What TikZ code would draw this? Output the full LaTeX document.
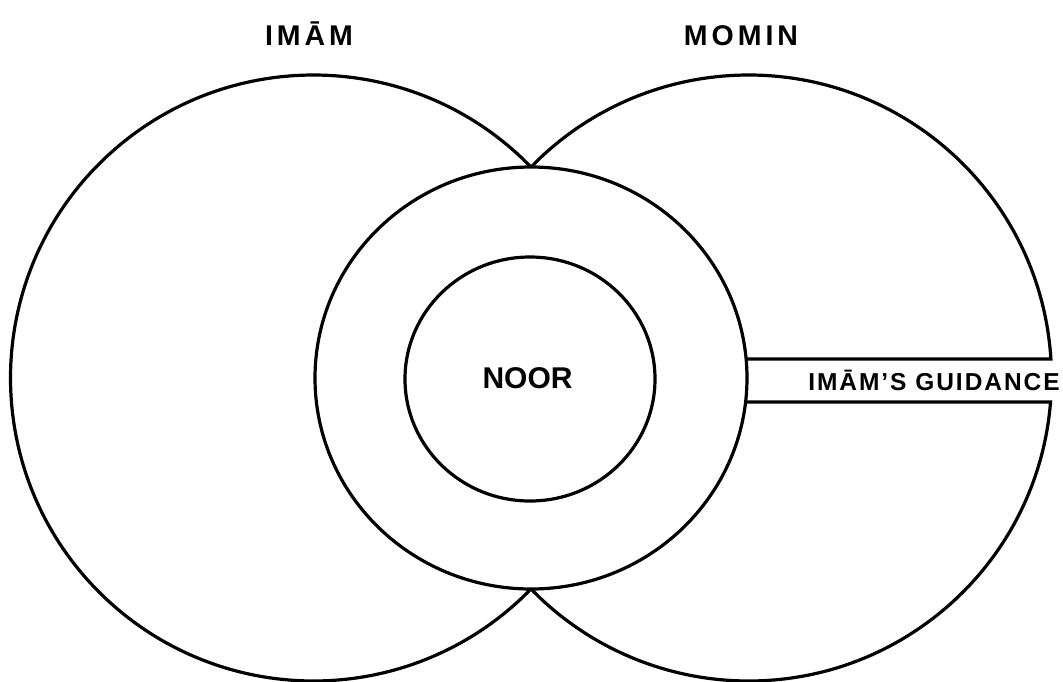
\documentclass[tikz,border=0pt]{standalone}
\usepackage{fontspec}
\setmainfont{Liberation Sans}
\newfontfamily\toplabelfont{Liberation Sans}[LetterSpace=14]
\newfontfamily\bandlabelfont{Liberation Sans}[LetterSpace=8]
\usetikzlibrary{calc}
\begin{document}
\begin{tikzpicture}[x=1pt,y=1pt,
  ring/.style={draw=black, line width=3.2pt, line join=miter},
  lbl/.style={anchor=base, inner sep=0pt, text=black}]
\useasboundingbox (0,0) rectangle (1063,-681);
\fill[white] (0,0) rectangle (1063,-681);
% centres
\coordinate (cL) at (313.5,-378);
\coordinate (cR) at (748.5,-378);
\coordinate (cM) at (531,-378);
\coordinate (cN) at (530,-379);
% band end points
\coordinate (bTL) at (746.1,-359);
\coordinate (bBL) at (745.6,-402);
\coordinate (bTR) at ($(cR)+(3.59:303)$);
\coordinate (bBR) at ($(cR)+(-4.54:303)$);
\coordinate (lTop) at ($(cL)+(44.13:303)$);
% left big circle (outside the middle ring only)
\draw[ring] (lTop) arc[start angle=44.13, end angle=315.87, radius=303];
% right big circle, split by the guidance band
\draw[ring] (bTL) -- (bTR) arc[start angle=3.59, end angle=135.87, radius=303];
\draw[ring] (bBL) -- (bBR) arc[start angle=-4.54, end angle=-135.87, radius=303];
% middle ring and inner circle
\draw[ring] (cM) ellipse[x radius=216, y radius=211];
\draw[ring] (cN) ellipse[x radius=125, y radius=122];
% labels
\node[lbl, font=\toplabelfont\bfseries\fontsize{28.5}{30}\selectfont] (imam) at (309,-45) {IMĀM};
\node[lbl, font=\toplabelfont\bfseries\fontsize{28.5}{30}\selectfont] (momin) at (741,-45) {MOMIN};
\node[lbl, font=\bfseries\fontsize{30}{32}\selectfont] (noor) at (527.5,-388) {NOOR};
\node[lbl, font=\bandlabelfont\bfseries\fontsize{24.5}{26}\selectfont] (guid) at (934,-390) {IMĀM’S GUIDANCE};
\end{tikzpicture}
\end{document}
